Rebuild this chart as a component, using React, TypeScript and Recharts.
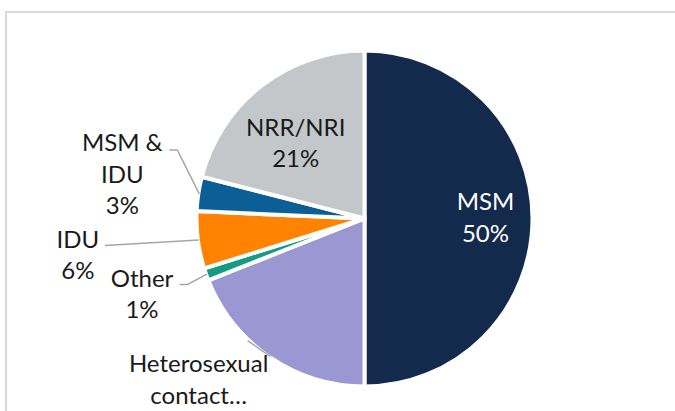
import React from 'react';
import { PieChart, Pie, Cell } from 'recharts';

const categories = ['MSM', 'Heterosexual contact', 'Other', 'IDU', 'MSM & IDU', 'NRR/NRI'];
const values = [50, 19, 1.2, 5.5, 3.3, 21];
const labelNames: string[][] = [['MSM'], ['Heterosexual', 'contact…'], ['Other'], ['IDU'], ['MSM &', 'IDU'], ['NRR/NRI']];
const showPercent = [true, false, true, true, true, true];
const colors = ['#132a4c', '#9b97d3', '#139c82', '#ff8200', '#0b5f96', '#c3c7ca'];

const data = categories.map((name, i) => ({ name, value: values[i] }));

type Layout = { inside: boolean; r: number; dx: number; dy: number; leader: [number, number][]; color: string };

const layouts: Layout[] = [
  { inside: true, r: 0.72, dx: 0, dy: -1, leader: [], color: '#ffffff' },
  { inside: false, r: 1, dx: -72, dy: 23, leader: [[-23, -16]], color: '#1a1a1a' },
  { inside: false, r: 1, dx: -65, dy: 20, leader: [[-27.5, 10.4], [-19.5, 10.4]], color: '#1a1a1a' },
  { inside: false, r: 1, dx: -121, dy: 15, leader: [[-94, 5.6]], color: '#1a1a1a' },
  { inside: false, r: 1, dx: -77, dy: -20, leader: [[-30, -44], [-22, -44]], color: '#1a1a1a' },
  { inside: true, r: 0.6, dx: -7, dy: 4, leader: [], color: '#1a1a1a' },
];

const FONT = 'Lato, "Open Sans", sans-serif';
const LINE_H = 31.5;
const CAP_HALF = 8.6;

const renderLabel = (props: any) => {
  const { cx, cy, midAngle, outerRadius, index, percent } = props;
  const L = layouts[index];
  const RAD = Math.PI / 180;
  const r = L.inside ? outerRadius * L.r : outerRadius - 1;
  const px = cx + r * Math.cos(-midAngle * RAD);
  const py = cy + r * Math.sin(-midAngle * RAD);
  const lines = [...labelNames[index]];
  if (showPercent[index]) lines.push(`${Math.round(percent * 100)}%`);
  const tx = px + L.dx;
  const ty = py + L.dy;
  const first = ty - ((lines.length - 1) * LINE_H) / 2;
  const pts = L.leader.map(([dx, dy]) => `${px + dx},${py + dy}`).concat([`${px},${py}`]).join(' ');
  return (
    <g key={`lbl-${index}`}>
      {L.leader.length > 0 && (
        <polyline points={pts} fill="none" stroke="#a6a6a6" strokeWidth={1.5} />
      )}
      <text textAnchor="middle" fill={L.color} fontSize={24} fontFamily={FONT}>
        {lines.map((t, i) => (
          <tspan key={i} x={tx} y={first + i * LINE_H + CAP_HALF}>
            {t}
          </tspan>
        ))}
      </text>
    </g>
  );
};

export default function App() {
  return (
    <div style={{ position: 'fixed', left: 0, top: 0, width: 675, height: 411, overflow: 'hidden', background: '#fff' }}>
      <div
        style={{
          position: 'absolute',
          left: 5,
          top: 11,
          width: 700,
          height: 430,
          borderTop: '2px solid #d9d9d9',
          borderLeft: '2px solid #d9d9d9',
          boxSizing: 'border-box',
        }}
      />
      <div style={{ position: 'absolute', left: 0, top: 0 }}>
        <PieChart width={675} height={411} margin={{ top: 0, right: 0, bottom: 0, left: 0 }}>
          <Pie
            data={data}
            dataKey="value"
            nameKey="name"
            cx={364.5}
            cy={218.5}
            outerRadius={168}
            startAngle={90}
            endAngle={-270}
            stroke="#ffffff"
            strokeWidth={4}
            label={renderLabel}
            labelLine={false}
            isAnimationActive={false}
          >
            {data.map((d, i) => (
              <Cell key={d.name} fill={colors[i]} />
            ))}
          </Pie>
        </PieChart>
      </div>
    </div>
  );
}
